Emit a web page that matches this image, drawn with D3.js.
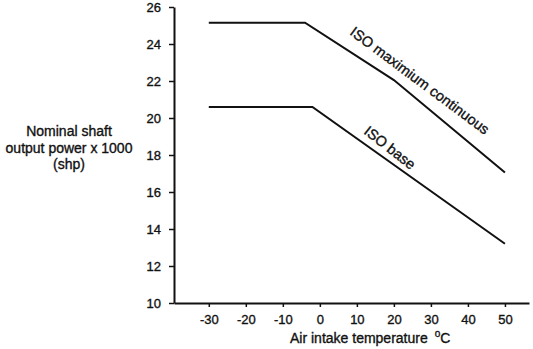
<!DOCTYPE html>
<html><head><meta charset="utf-8">
<script src="https://cdn.jsdelivr.net/npm/d3@7"></script>
<style>body{margin:0;background:#fff}svg{display:block}text{font-family:"Liberation Sans",Arial,sans-serif;fill:#111;stroke:#111;stroke-width:0.35px}</style>
</head><body><svg id="c" width="533" height="349"></svg>
<script>
const xTicks=[-30,-20,-10,0,10,20,30,40,50];
const yTicks=[10,12,14,16,18,20,22,24,26];
const maxCont=[{t:-30,p:25.15},{t:-4,p:25.15},{t:20,p:22.05},{t:50,p:17.05}];
const base=[{t:-30,p:20.6},{t:-2,p:20.6},{t:50,p:13.2}];
const yLabel=["Nominal shaft","output power x 1000","(shp)"];
const xLabel="Air intake temperature";

const svg=d3.select("#c");
const x=d3.scaleLinear().domain([-39.4,56.5]).range([174,529]);
const y=d3.scaleLinear().domain([10,26]).range([303,7]);
const fmt=d=>String(d);

const gy=svg.append("g").attr("transform","translate(174,0)")
 .call(d3.axisLeft(y).tickValues(yTicks).tickFormat(fmt).tickSize(5).tickSizeOuter(0).tickPadding(8));
const gx=svg.append("g").attr("transform","translate(0,303)")
 .call(d3.axisBottom(x).tickValues(xTicks).tickFormat(fmt).tickSize(4).tickSizeOuter(0).tickPadding(8));
[gx,gy].forEach(g=>{
 g.select(".domain").attr("stroke","#111").attr("stroke-width",2);
 g.selectAll(".tick line").attr("stroke","#111").attr("stroke-width",1.5);
 g.selectAll("text").style("font-family","Liberation Sans, Arial, sans-serif").style("font-size","13px").attr("fill","#111");
});

const line=d3.line().x(d=>x(d.t)).y(d=>y(d.p));
[maxCont,base].forEach(s=>svg.append("path").datum(s).attr("d",line)
 .attr("fill","none").attr("stroke","#111").attr("stroke-width",2));

svg.append("text").attr("transform","translate(349,34) rotate(36.7)")
 .style("font-size","14.5px").text("ISO maximium continuous");
svg.append("text").attr("transform","translate(363,133) rotate(38)")
 .style("font-size","14.5px").text("ISO base");

const yl=svg.append("text").attr("text-anchor","middle").style("font-size","14px");
yLabel.forEach((s,i)=>yl.append("tspan").attr("x",69).attr("y",136+i*16.5).text(s));

const xl=svg.append("text").attr("x",290).attr("y",343).style("font-size","14px");
xl.append("tspan").text(xLabel);
xl.append("tspan").attr("dx",7).attr("dy",-6).style("font-size","10px").text("o");
xl.append("tspan").attr("dy",6).text("C");
</script></body></html>
